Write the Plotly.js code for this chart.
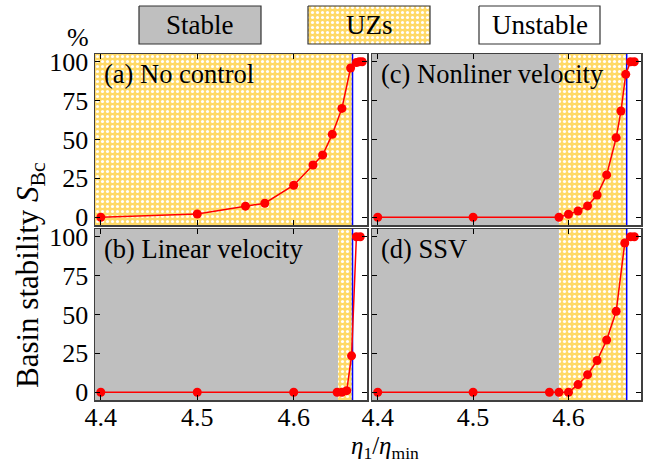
<!DOCTYPE html>
<html><head><meta charset="utf-8">
<script src="https://cdn.plot.ly/plotly-3.0.1.min.js"></script>
<style>html,body{margin:0;padding:0;background:#fff;}#chart{width:648px;height:463px;}</style>
</head><body><div id="chart"></div>
<script>
// ---- data ----
const panelLabels = ['(a) No control', '(c) Nonliner velocity', '(b) Linear velocity', '(d) SSV'];
const xA = [4.40, 4.50, 4.55, 4.57, 4.60, 4.62, 4.63, 4.64, 4.65, 4.659, 4.665, 4.668, 4.671];
const yA = [0, 2.1, 7.1, 9.0, 20.6, 33.6, 40.0, 53.3, 70.0, 96.0, 99.5, 100, 100];
const xC = [4.40, 4.50, 4.59, 4.60, 4.61, 4.62, 4.63, 4.64, 4.65, 4.655, 4.66, 4.665, 4.669];
const yC = [0, 0, 0, 1.9, 4.0, 7.3, 14.3, 27.2, 51.2, 68.3, 91.9, 100, 100];
const xB = [4.40, 4.50, 4.60, 4.645, 4.65, 4.655, 4.66, 4.665, 4.669];
const yB = [0, 0, 0, 0, 0, 1, 23.4, 100, 100];
const xD = [4.40, 4.50, 4.58, 4.59, 4.60, 4.61, 4.62, 4.63, 4.64, 4.65, 4.659, 4.665, 4.669];
const yD = [0, 0, 0, 0, 0, 4.9, 11.3, 20.4, 33.6, 52.1, 96.0, 100, 100];
// region boundaries per panel (a, c, b, d); null = no stable region
const stableEnd = [null, 4.59, 4.646, 4.59];
const unstableStart = [4.661, 4.661, 4.661, 4.661];
const yTicks = [0, 25, 50, 75, 100];
const xTicks = [4.4, 4.5, 4.6];
const legendNames = ['Stable', 'UZs', 'Unstable'];

// ---- styling ----
const FONT = 'Liberation Serif, Times New Roman, serif';
const GRAY = '#bfbfbf';
const UZ_PATTERN = {shape: '.', bgcolor: '#ffd966', fgcolor: '#ffffff', size: 5, solidity: 0.3};
const XR = [4.394, 4.676];
const YR = [-5, 105];
const W = 648, H = 463;
// pixel boxes [left, right, top, bottom]
const boxes = [[95, 367, 54, 225], [372, 641, 54, 225], [95, 367, 229, 400], [372, 641, 229, 400]];
const series = [[xA, yA], [xC, yC], [xB, yB], [xD, yD]];

const traces = [];
const layout = {
  width: W, height: H, margin: {l: 0, r: 0, t: 0, b: 0},
  paper_bgcolor: '#fff', plot_bgcolor: 'rgba(0,0,0,0)', showlegend: false,
  font: {family: FONT, size: 22, color: '#000'},
  annotations: [], shapes: []
};

function rect(x0, x1, y0, y1) { return {x: [x0, x1, x1, x0, x0], y: [y0, y0, y1, y1, y0]}; }

// legend boxes on an overlay axis (top strip) in pixel units
layout.xaxis5 = {domain: [0, 1], range: [0, W], visible: false, fixedrange: true, anchor: 'y5'};
layout.yaxis5 = {domain: [1 - 50 / H, 1], range: [50, 0], visible: false, fixedrange: true, anchor: 'x5'};
const legBoxes = [[139, 261], [308, 430], [479, 600]];
const legFills = [{fillcolor: GRAY}, {fillcolor: '#ffd966', fillpattern: UZ_PATTERN}, {fillcolor: '#ffffff'}];
legBoxes.forEach((lb, k) => {
  const r = rect(lb[0], lb[1], 6, 44);
  traces.push(Object.assign({x: r.x, y: r.y, xaxis: 'x5', yaxis: 'y5', type: 'scatter', mode: 'lines',
    fill: 'toself', line: {color: '#333', width: 1.2}, hoverinfo: 'skip'}, legFills[k]));
  layout.annotations.push({text: legendNames[k], xref: 'paper', yref: 'paper',
    x: (lb[0] + lb[1]) / 2 / W, y: 1 - 25 / H, xanchor: 'center', yanchor: 'middle', showarrow: false,
    font: {family: FONT, size: 27, color: '#000'}});
});

boxes.forEach((b, i) => {
  const n = i + 1;
  const xa = 'x' + (n === 1 ? '' : n), ya = 'y' + (n === 1 ? '' : n);
  const isLeft = (i % 2 === 0), isBottom = (i >= 2);
  layout['xaxis' + (n === 1 ? '' : n)] = {
    domain: [b[0] / W, b[1] / W], range: XR, anchor: ya,
    tickmode: 'array', tickvals: xTicks, ticktext: xTicks.map(v => v.toFixed(1)), showticklabels: isBottom,
    ticks: 'inside', ticklen: 5, tickcolor: '#000', showline: true, mirror: 'ticks',
    linecolor: '#404040', linewidth: 1.5, showgrid: false, zeroline: false,
    ticklabelstandoff: -7,
    tickfont: {family: FONT, size: 26}
  };
  layout['yaxis' + (n === 1 ? '' : n)] = {
    domain: [1 - b[3] / H, 1 - b[2] / H], range: YR, anchor: xa,
    tickmode: 'array', tickvals: yTicks, ticktext: yTicks.map(String), showticklabels: isLeft,
    ticks: 'inside', ticklen: 5, tickcolor: '#000', showline: true, mirror: 'ticks',
    linecolor: '#404040', linewidth: 1.5, showgrid: false, zeroline: false,
    tickfont: {family: FONT, size: 26}
  };
  const se = stableEnd[i], us = unstableStart[i];
  if (se !== null) {
    const r = rect(XR[0], se, YR[0], YR[1]);
    traces.push({x: r.x, y: r.y, xaxis: xa, yaxis: ya, type: 'scatter', mode: 'lines', fill: 'toself',
      fillcolor: GRAY, line: {width: 0}, hoverinfo: 'skip'});
  }
  const r2 = rect(se === null ? XR[0] : se, us, YR[0], YR[1]);
  traces.push({x: r2.x, y: r2.y, xaxis: xa, yaxis: ya, type: 'scatter', mode: 'lines', fill: 'toself',
    fillcolor: '#ffd966', fillpattern: UZ_PATTERN, line: {width: 0}, hoverinfo: 'skip'});
  traces.push({x: [us, us], y: YR, xaxis: xa, yaxis: ya, type: 'scatter', mode: 'lines',
    line: {color: '#0000ff', width: 1.5}, hoverinfo: 'skip'});
  traces.push({x: series[i][0], y: series[i][1], xaxis: xa, yaxis: ya, type: 'scatter', mode: 'lines+markers',
    line: {color: '#ff0000', width: 1.5}, marker: {color: '#ff0000', size: 9}});
  layout.annotations.push({text: panelLabels[i], xref: 'paper', yref: 'paper',
    x: (b[0] + 7) / W, y: 1 - (b[2] + 3) / H, xanchor: 'left', yanchor: 'top', showarrow: false,
    font: {family: FONT, size: 26.5, color: '#000'}});
});

// axis titles
layout.annotations.push({text: '%', xref: 'paper', yref: 'paper', x: 78 / W, y: 1 - 37 / H,
  xanchor: 'center', yanchor: 'middle', showarrow: false, font: {family: FONT, size: 26}});
layout.annotations.push({text: 'Basin stability <i>S</i><sub>Bc</sub>', xref: 'paper', yref: 'paper',
  x: 30 / W, y: 1 - 275 / H, xanchor: 'center', yanchor: 'middle', textangle: -90, showarrow: false,
  font: {family: FONT, size: 31}});
layout.annotations.push({text: '<i>η</i><sub>1</sub>/<i>η</i><sub>min</sub>', xref: 'paper', yref: 'paper',
  x: 385 / W, y: 1 - 447 / H, xanchor: 'center', yanchor: 'middle', showarrow: false,
  font: {family: FONT, size: 25}});

Plotly.newPlot('chart', traces, layout, {staticPlot: true, displayModeBar: false});
</script></body></html>
